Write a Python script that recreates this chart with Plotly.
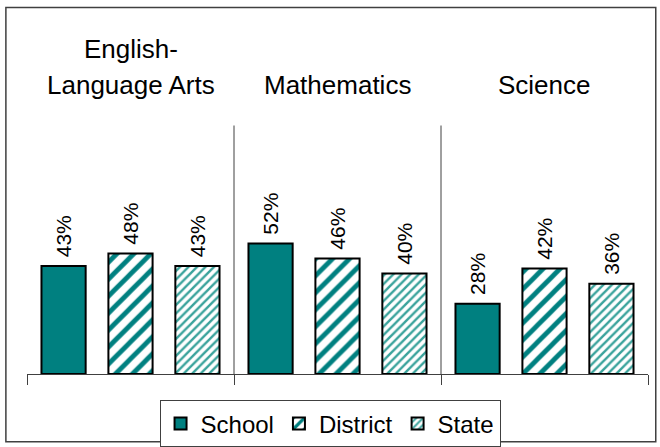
import plotly.graph_objects as go

categories = ["English-Language Arts", "Mathematics", "Science"]
series_names = ["School", "District", "State"]
school = [43, 52, 28]
district = [48, 46, 42]
state = [43, 40, 36]

TEAL = "#008080"
FONT = "Arial, Liberation Sans, sans-serif"

fig = go.Figure()
styles = [
    dict(color=TEAL, pattern=dict(shape="")),
    dict(color="white", pattern=dict(shape="/", fgcolor=TEAL, bgcolor="white", size=12, solidity=0.4,
                                     fillmode="replace", fgopacity=1)),
    dict(color="white", pattern=dict(shape="/", fgcolor="#3aa39c", bgcolor="white", size=6, solidity=0.4,
                                     fillmode="replace", fgopacity=1)),
]
for name, vals, st in zip(series_names, [school, district, state], styles):
    fig.add_trace(go.Bar(
        x=categories, y=vals, name=name,
        text=[f"\u00a0{v}%" for v in vals], textposition="outside", textangle=-90,
        textfont=dict(family=FONT, size=21, color="black"),
        cliponaxis=False, constraintext="none",
        marker=dict(color=st["color"], pattern=st["pattern"], line=dict(color="black", width=2)),
    ))

title_font = dict(family=FONT, size=26, color="black")

fig.update_layout(
    width=660, height=447,
    autosize=False,
    margin=dict(l=27, r=12, t=123, b=73, autoexpand=False),
    paper_bgcolor="white", plot_bgcolor="white",
    barmode="group", bargap=0.03, bargroupgap=0.34,
    showlegend=True,
    legend=dict(orientation="h", x=0.488, xanchor="center", y=-0.105, yanchor="top",
                bordercolor="#404040", borderwidth=1,
                font=dict(family=FONT, size=24, color="black"),
                itemwidth=30, tracegroupgap=0),
    font=dict(family=FONT, color="black"),
    xaxis=dict(showticklabels=False, ticks="outside", tickson="boundaries", ticklen=10,
               tickcolor="#404040", showline=True, linecolor="#404040", linewidth=1,
               showgrid=False, range=[-0.5, 2.5], fixedrange=True),
    yaxis=dict(range=[0, 100], visible=False, showgrid=False, fixedrange=True),
    shapes=[
        dict(type="rect", xref="paper", yref="paper", x0=-0.034, x1=1.0125, y0=-0.27, y1=1.46,
             line=dict(color="#404040", width=1.5), fillcolor="rgba(0,0,0,0)", layer="below"),
        dict(type="line", xref="paper", yref="paper", x0=1/3, x1=1/3, y0=0, y1=0.99,
             line=dict(color="#404040", width=1)),
        dict(type="line", xref="paper", yref="paper", x0=2/3, x1=2/3, y0=0, y1=0.99,
             line=dict(color="#404040", width=1)),
    ],
    annotations=[
        dict(text="English-", xref="paper", yref="paper", x=1/6, y=1.295, showarrow=False,
             xanchor="center", yanchor="middle", font=title_font),
        dict(text="Language Arts", xref="paper", yref="paper", x=1/6, y=1.152, showarrow=False,
             xanchor="center", yanchor="middle", font=title_font),
        dict(text="Mathematics", xref="paper", yref="paper", x=0.5, y=1.152, showarrow=False,
             xanchor="center", yanchor="middle", font=title_font),
        dict(text="Science", xref="paper", yref="paper", x=5/6, y=1.152, showarrow=False,
             xanchor="center", yanchor="middle", font=title_font),
    ],
)

fig.write_html("out.html", config={"displayModeBar": False},
               post_script="document.body.style.margin='0';")
